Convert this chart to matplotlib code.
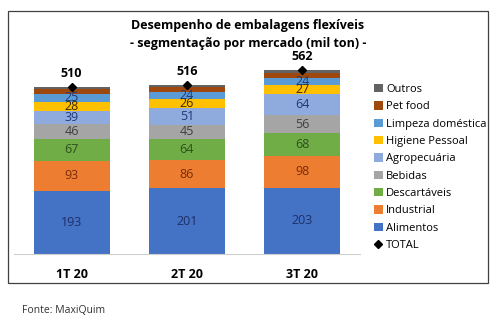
"""flexible packaging demand by market segment, stacked bars per quarter"""

import matplotlib.pyplot as plt
import numpy

plt.rcParams['font.family'] = ['Open Sans', 'DejaVu Sans']

QUARTERS = ['1T 20', '2T 20', '3T 20']
SEGMENTS = ['Alimentos', 'Industrial', 'Descartáveis', 'Bebidas',
            'Agropecuária', 'Higiene Pessoal', 'Limpeza doméstica',
            'Pet food', 'Outros']
ALIMENTOS = [193, 201, 203]
INDUSTRIAL = [93, 86, 98]
DESCARTAVEIS = [67, 64, 68]
BEBIDAS = [46, 45, 56]
AGROPECUARIA = [39, 51, 64]
HIGIENE = [28, 26, 27]
LIMPEZA = [25, 24, 24]
PET_FOOD = [15, 15, 15]
OUTROS = [4, 4, 7]
TOTAL = [510, 516, 562]

VALUES = [ALIMENTOS, INDUSTRIAL, DESCARTAVEIS, BEBIDAS, AGROPECUARIA,
          HIGIENE, LIMPEZA, PET_FOOD, OUTROS]
COLORS = ['#4472C4', '#ED7D31', '#70AD47', '#A5A5A5', '#8FAADC',
          '#FFC000', '#5B9BD5', '#9E480E', '#636363']
LABEL_COLORS = ['#1F2F66', '#7A2A0A', '#2E5020', '#404040', '#1F3A7A',
                '#3A2A00', '#1F3A7A', None, None]

fig = plt.figure(figsize=(5.0, 3.24), dpi=100)
fig.patches.append(plt.Rectangle(
    (0.016, 0.127), 0.96, 0.84, transform=fig.transFigure,
    fill=False, edgecolor='#404040', linewidth=0.9))

ax = fig.add_axes([0.028, 0.216, 0.692, 0.605])
x_pos = numpy.arange(len(QUARTERS))
bottom = numpy.zeros(len(QUARTERS))
bar_handles = []
for name, vals, color, lcolor in zip(SEGMENTS, VALUES, COLORS, LABEL_COLORS):
    vals = numpy.array(vals)
    bars = ax.bar(x_pos, vals, 0.66, bottom=bottom, color=color, label=name)
    bar_handles.append(bars)
    if lcolor is not None:
        for xi, b, v in zip(x_pos, bottom, vals):
            ax.text(xi, b + v / 2, str(v), ha='center', va='center',
                    fontsize=9, color=lcolor)
    bottom += vals

total_line, = ax.plot(x_pos, TOTAL, linestyle='none', marker='D',
                      markersize=4, color='black', label='TOTAL')
for xi, tot in zip(x_pos, TOTAL):
    ax.text(xi, tot + 42, str(tot), ha='center', va='center',
            fontsize=9, fontweight='bold')

ax.set_xlim(-0.5, 2.5)
ax.set_ylim(0, 600)
ax.set_xticks(x_pos)
ax.set_xticklabels(QUARTERS, fontsize=9, fontweight='bold')
ax.tick_params(axis='x', length=0, pad=10)
ax.set_yticks([])
for side in ['top', 'right', 'left']:
    ax.spines[side].set_visible(False)
ax.spines['bottom'].set_color('#D0D0D0')

fig.legend(bar_handles[::-1] + [total_line], SEGMENTS[::-1] + ['TOTAL'],
           loc='upper left', bbox_to_anchor=(0.728, 0.772),
           frameon=False, fontsize=8, handlelength=0.8, handleheight=0.8,
           handletextpad=0.3, labelspacing=0.56)

fig.text(0.496, 0.922, 'Desempenho de embalagens flexíveis',
         ha='center', va='center', fontsize=9, fontweight='bold')
fig.text(0.496, 0.866, '- segmentação por mercado (mil ton) -',
         ha='center', va='center', fontsize=9, fontweight='bold')
fig.text(0.044, 0.043, 'Fonte: MaxiQuim', ha='left', va='center',
         fontsize=7.5, color='#333333')

fig.savefig('out.png', dpi=100)
